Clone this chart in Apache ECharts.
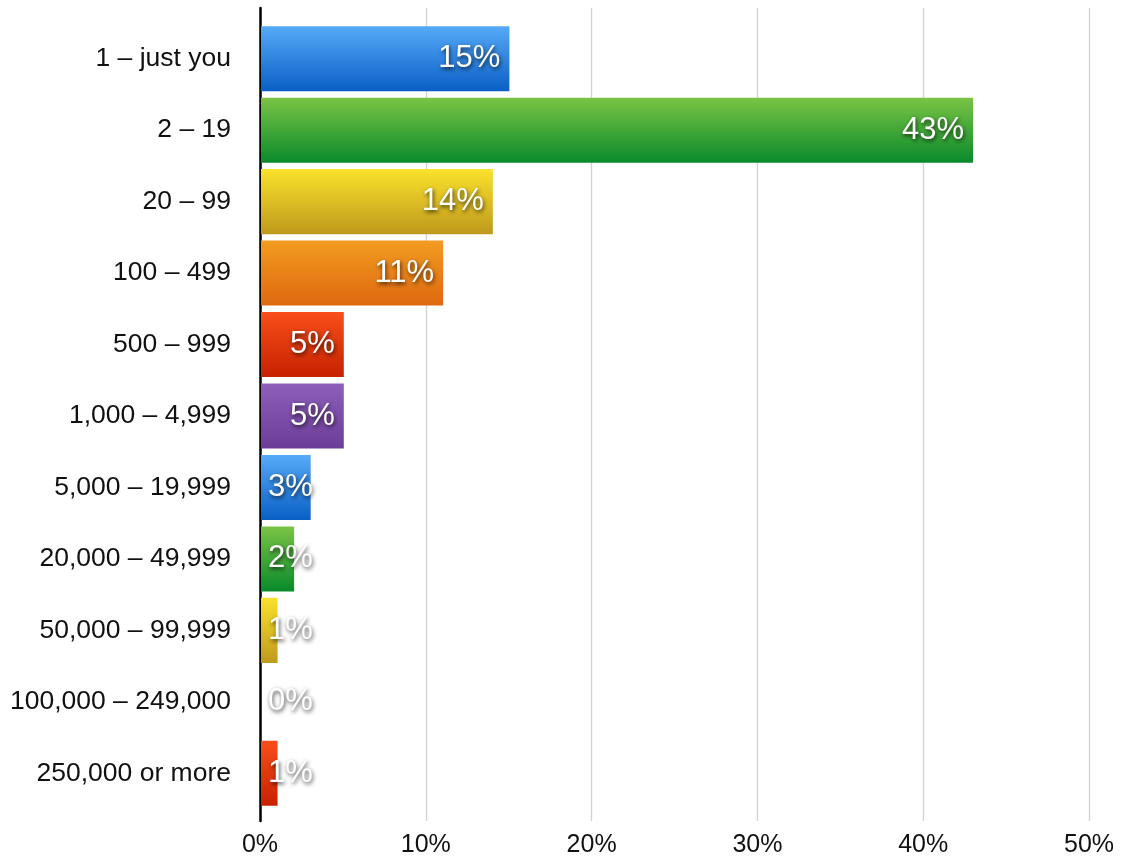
<!DOCTYPE html>
<html>
<head>
<meta charset="utf-8">
<title>Company size</title>
<script src="https://cdn.jsdelivr.net/npm/echarts@6/dist/echarts.min.js"></script>
<style>
  html, body { margin: 0; padding: 0; background: #ffffff; }
  #chart { width: 1130px; height: 861px; }
</style>
</head>
<body>
<div id="chart"></div>
<script>
// Organisation size buckets and share of respondents (%)
const categories = [
  '1 – just you', '2 – 19', '20 – 99', '100 – 499', '500 – 999',
  '1,000 – 4,999', '5,000 – 19,999', '20,000 – 49,999', '50,000 – 99,999',
  '100,000 – 249,000', '250,000 or more'
];
const shares = [15, 43, 14, 11, 5, 5, 3, 2, 1, 0, 1];
const xTicks = [0, 10, 20, 30, 40, 50];

// Glossy palette, cycling per bar: [top, bottom]
const palette = [
  ['#55aaf8', '#0a5fc6'],  // blue
  ['#7ac444', '#098a2b'],  // green
  ['#fae22c', '#bf991c'],  // yellow
  ['#f29c20', '#df680f'],  // orange
  ['#f94e1a', '#c62200'],  // red
  ['#8e5fba', '#6c3d98']   // purple
];

const FONT = '"Liberation Sans", Arial, Helvetica, sans-serif';
const xMin = xTicks[0], xMax = xTicks[xTicks.length - 1];
const xStep = xTicks[1] - xTicks[0];

const barData = shares.map((v, i) => {
  const c = palette[i % palette.length];
  const small = v <= 3;
  return {
    value: v,
    itemStyle: {
      color: new echarts.graphic.LinearGradient(0, 0, 0, 1, [
        { offset: 0, color: c[0] },
        { offset: 1, color: c[1] }
      ])
    },
    label: {
      position: small ? 'insideLeft' : 'insideRight',
      distance: small ? 7 : 9
    }
  };
});

const chart = echarts.init(document.getElementById('chart'), null, { renderer: 'canvas' });
chart.setOption({
  animation: false,
  backgroundColor: '#ffffff',
  grid: [
    // frame: gridlines, x labels, vertical axis line
    { left: 260, right: 41, top: 8, bottom: 40 },
    // bars
    { left: 261, right: 41, top: 23, bottom: 52 }
  ],
  xAxis: [
    {
      gridIndex: 0, type: 'value', min: xMin, max: xMax, interval: xStep,
      axisLine: { show: false }, axisTick: { show: false },
      splitLine: { show: true, lineStyle: { color: '#d2d2d2', width: 1.3 } },
      axisLabel: {
        margin: 12, color: '#111', fontFamily: FONT, fontSize: 25,
        formatter: v => v + '%'
      }
    },
    {
      gridIndex: 1, type: 'value', min: xMin, max: xMax,
      show: false, splitLine: { show: false }
    }
  ],
  yAxis: [
    {
      gridIndex: 0, type: 'value', min: 0, max: 1,
      axisLine: { show: true, lineStyle: { color: '#000', width: 2.5 } },
      axisTick: { show: false }, axisLabel: { show: false },
      splitLine: { show: false }
    },
    {
      gridIndex: 1, type: 'category', data: categories, inverse: true,
      axisLine: { show: false }, axisTick: { show: false },
      splitLine: { show: false },
      axisLabel: {
        margin: 30, color: '#111', fontFamily: FONT, fontSize: 26.5
      }
    }
  ],
  series: [{
    type: 'bar',
    xAxisIndex: 1, yAxisIndex: 1,
    data: barData,
    barWidth: '91%',
    label: {
      show: true,
      formatter: p => p.value + '%',
      color: '#ffffff',
      fontFamily: FONT,
      fontSize: 31,
      textShadowColor: 'rgba(0,0,0,0.75)',
      textShadowBlur: 4,
      textShadowOffsetX: 1,
      textShadowOffsetY: 2
    }
  }]
});
</script>
</body>
</html>
